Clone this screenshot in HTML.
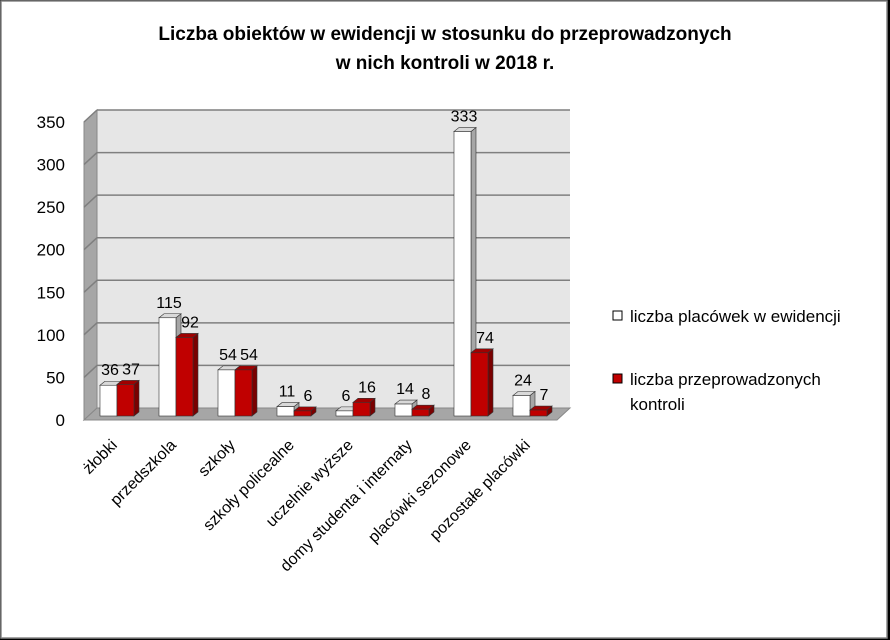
<!DOCTYPE html>
<html><head><meta charset="utf-8"><style>
html,body{margin:0;padding:0;background:#fff}
svg{display:block;font-family:"Liberation Sans",sans-serif}
</style></head><body>
<svg id="chart" width="890" height="640" viewBox="0 0 890 640">
<rect x="0" y="0" width="890" height="640" fill="#000"/>
<rect x="1" y="1" width="886" height="637" fill="#fff" stroke="#888" stroke-width="1.5"/>
<text x="445" y="40" text-anchor="middle" font-size="19" font-weight="bold">Liczba obiektów w ewidencji w stosunku do przeprowadzonych</text>
<text x="445" y="69" text-anchor="middle" font-size="19" font-weight="bold">w nich kontroli w 2018 r.</text>
<g id="plot"></g>
<g>
<rect x="613" y="311" width="9" height="9" fill="#fff" stroke="#000"/>
<text x="630" y="322" font-size="17">liczba placówek w ewidencji</text>
<rect x="613" y="374" width="9" height="9" fill="#c00000" stroke="#000"/>
<text x="630" y="385" font-size="17">liczba przeprowadzonych</text>
<text x="630" y="410" font-size="17">kontroli</text>
</g>
</svg>
<script>
const categories=["żłobki","przedszkola","szkoły","szkoły policealne","uczelnie wyższe","domy studenta i internaty","placówki sezonowe","pozostałe placówki"];
const seriesEwidencja=[36,115,54,11,6,14,333,24];
const seriesKontrole=[37,92,54,6,16,8,74,7];
const yTicks=[0,50,100,150,200,250,300,350];
const NS="http://www.w3.org/2000/svg";
const g=document.getElementById('plot');
function mk(t,a,p){const e=document.createElementNS(NS,t);for(const k in a)e.setAttribute(k,a[k]);(p||g).appendChild(e);return e;}
const yMax=350;
const backY=v=>408-v/yMax*298;
const frontY=v=>416-v/yMax*299;
const labelY=v=>420-v/yMax*298;
const catX=i=>118+59*i;
const BX0=97,BX1=570,D=13;
let e=mk('rect',{x:BX0,y:backY(yMax),width:BX1-BX0,height:backY(0)-backY(yMax),fill:'#e6e6e6'});

e=mk('polygon',{points:`${BX0},${backY(yMax)} ${BX0-D},${backY(yMax)+12} ${BX0-D},${backY(0)+12} ${BX0},${backY(0)}`,fill:'#a6a6a6',stroke:'#888'});

e=mk('polygon',{points:`${BX0},${backY(0)} ${BX1},${backY(0)} ${BX1-D},${backY(0)+12} ${BX0-D},${backY(0)+12}`,fill:'#a6a6a6',stroke:'#888'});

yTicks.forEach(v=>{
  const y=backY(v);
  if(v>0){
    const l=mk('line',{x1:BX0,x2:BX1,y1:y,y2:y,stroke:'#7f7f7f','stroke-width':1.5});
    
    const s=mk('line',{x1:BX0,x2:BX0-D,y1:y,y2:y+12,stroke:'#7f7f7f','stroke-width':1.5});
    
  }
  const t=mk('text',{x:65,y:labelY(v)+6,'text-anchor':'end','font-size':17});
  t.textContent=v;
  
});
function bar(x,w,v,front,side,top,name){
  const y0=frontY(0),y1=frontY(v),dx=5,dy=4;
  const b=mk('g',{});
  
  mk('polygon',{points:`${x+w},${y1} ${x+w+dx},${y1-dy} ${x+w+dx},${y0-dy} ${x+w},${y0}`,fill:side,stroke:'#333','stroke-width':0.6},b);
  mk('polygon',{points:`${x},${y1} ${x+dx},${y1-dy} ${x+w+dx},${y1-dy} ${x+w},${y1}`,fill:top,stroke:'#333','stroke-width':0.6},b);
  mk('rect',{x:x,y:y1,width:w,height:y0-y1,fill:front,stroke:'#333','stroke-width':0.6},b);
}
categories.forEach((c,i)=>{
  const cx=catX(i);
  bar(cx-18,17,seriesEwidencja[i],'#fff','#a6a6a6','#d9d9d9','bar-ewidencja');
  bar(cx-1,17,seriesKontrole[i],'#c00000','#7a0000','#a00000','bar-kontrole');
  let t=mk('text',{x:cx-8,y:frontY(seriesEwidencja[i])-10,'text-anchor':'middle','font-size':16});
  t.textContent=seriesEwidencja[i];
  
  t=mk('text',{x:cx+13,y:frontY(seriesKontrole[i])-10,'text-anchor':'middle','font-size':16});
  t.textContent=seriesKontrole[i];
  
  t=mk('text',{x:cx,y:446,'text-anchor':'end','font-size':16,transform:`rotate(-45 ${cx} 446)`});
  t.textContent=c;
  
});
</script>
</body></html>
